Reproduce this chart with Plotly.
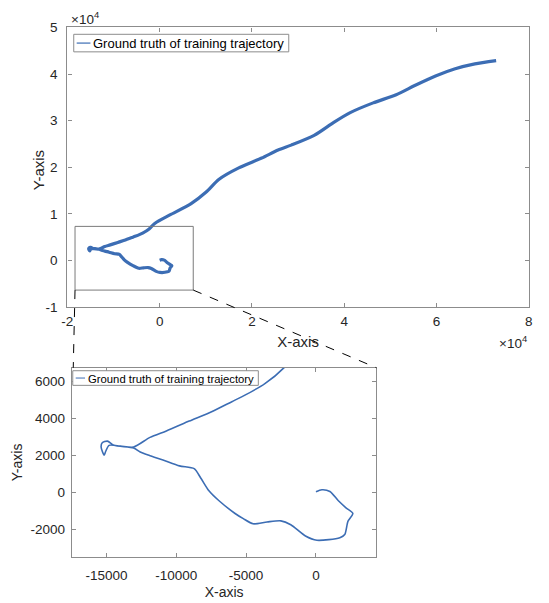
import plotly.graph_objects as go

# Ground-truth trajectory of the training run (metres)
traj_x = [0, 420, 1000, 1590, 2130, 2640, 2290, 2060, 1710, 70, -750, -1800,
          -2510, -3500, -4500, -5200, -5790, -6960, -7660, -8250, -8720, -9770,
          -10950, -11880, -12580, -13050, -14460, -14930, -15300, -15380, -15160,
          -15050, -14810, -13990, -13050, -11880, -10710, -9070, -7430, -6020,
          -5320, -3680, -2280, -1000, 2220, 6820, 10020, 12880, 17140, 22110,
          25670, 28510, 33480, 37740, 41300, 46270, 51260, 55520, 59790, 64050,
          68310, 72920]
traj_y = [50, 160, 70, -420, -800, -1120, -1550, -2260, -2430, -2570, -2340, -1730,
          -1520, -1580, -1680, -1400, -1120, -420, 105, 800, 1300, 1450,
          1770, 2000, 2200, 2420, 2560, 2790, 2700, 2470, 2030,
          2240, 2560, 2520, 2470, 2990, 3340, 3870, 4390, 4920,
          5180, 5880, 6760, 8000, 9770, 12200, 14640, 17430, 19870, 21970,
          23700, 24750, 26840, 29640, 31730, 33820, 35560, 37660, 39600, 41150,
          42200, 42890]

legend_label = "Ground truth of training trajectory"

main_xticks = [-20000, 0, 20000, 40000, 60000, 80000]
main_yticks = [-10000, 0, 10000, 20000, 30000, 40000, 50000]
inset_xticks = [-15000, -10000, -5000, 0]
inset_yticks = [-2000, 0, 2000, 4000, 6000]

# zoom window drawn on the main axes (data units)
zoom_box = dict(x0=-18340, x1=7280, y0=-6360, y1=7310)

LINE_BLUE = "#3c6db4"
AXIS_GREY = "#8c8c8c"
TEXT_DARK = "#262626"
FONT = "Liberation Sans, Arial, sans-serif"

W, H = 549, 603


def px_x(p):
    return p / W


def px_y(p):
    return 1 - p / H


fig = go.Figure()

fig.add_trace(go.Scatter(
    x=traj_x, y=traj_y, mode="lines", name=legend_label,
    line=dict(color=LINE_BLUE, width=3.2, shape="spline", smoothing=0.7),
    xaxis="x", yaxis="y", showlegend=False,
))
fig.add_trace(go.Scatter(
    x=traj_x, y=traj_y, mode="lines", name=legend_label,
    line=dict(color=LINE_BLUE, width=1.6, shape="spline", smoothing=0.7),
    xaxis="x2", yaxis="y2", showlegend=False,
))

axis_common = dict(
    showgrid=False, zeroline=False, showline=True, mirror="ticks",
    linecolor=AXIS_GREY, linewidth=1.3, ticks="inside", ticklen=4,
    tickcolor=AXIS_GREY, tickwidth=1,
    tickfont=dict(family=FONT, size=13.5, color=TEXT_DARK),
)

fig.update_layout(
    width=W, height=H,
    margin=dict(l=0, r=0, t=0, b=0),
    paper_bgcolor="white", plot_bgcolor="white",
    font=dict(family=FONT, color=TEXT_DARK),
    xaxis=dict(
        **axis_common, domain=[px_x(62.5), px_x(532.5)], anchor="y",
        range=[-20000, 80000], tickvals=main_xticks,
        ticktext=[f"{v // 10000:g}" for v in main_xticks],
        ticklabelstandoff=2,
        title=dict(text="X-axis", font=dict(family=FONT, size=15, color=TEXT_DARK), standoff=8),
    ),
    yaxis=dict(
        **axis_common, domain=[px_y(307.7), px_y(21)], anchor="x",
        range=[-10000, 50000], tickvals=main_yticks,
        ticktext=[f"{v // 10000:g}" for v in main_yticks],
        ticklabelstandoff=6,
    ),
    xaxis2=dict(
        **axis_common, domain=[px_x(67), px_x(377.3)], anchor="y2",
        range=[-17480, 4330], tickvals=inset_xticks,
        ticktext=[str(v) for v in inset_xticks],
        ticklabelstandoff=6,
        title=dict(text="X-axis", font=dict(family=FONT, size=14, color=TEXT_DARK), standoff=4),
    ),
    yaxis2=dict(
        **axis_common, domain=[px_y(564), px_y(370)], anchor="x2",
        range=[-3470, 6750], tickvals=inset_yticks,
        ticktext=[str(v) for v in inset_yticks],
        ticklabelstandoff=3,
        title=dict(text="Y-axis", font=dict(family=FONT, size=14, color=TEXT_DARK), standoff=4),
    ),
)

# main y-axis title, placed beside the tick labels
fig.add_annotation(text="Y-axis", xref="paper", yref="paper",
                   x=px_x(33), y=px_y(167), xanchor="center", yanchor="middle",
                   textangle=-90, showarrow=False,
                   font=dict(family=FONT, size=15, color=TEXT_DARK))

# zoom window on the main axes
fig.add_shape(type="rect", xref="x", yref="y", line=dict(color="#7a7a7a", width=1),
              **zoom_box)

# dashed connectors from the zoom window to the inset's top corners
fig.add_shape(type="line", xref="paper", yref="paper",
              x0=px_x(70.3), y0=px_y(290.3), x1=px_x(68.5), y1=px_y(370),
              line=dict(color="black", width=1, dash="dash"))
fig.add_shape(type="line", xref="paper", yref="paper",
              x0=px_x(190.7), y0=px_y(290.3), x1=px_x(377.3), y1=px_y(370),
              line=dict(color="black", width=1, dash="dash"))


def add_legend_box(left, top, right, bottom, line_end, text_size, line_w):
    """MATLAB-style legend: framed box, short line sample and label."""
    mid = (top + bottom) / 2
    fig.add_shape(type="rect", xref="paper", yref="paper",
                  x0=px_x(left), x1=px_x(right), y0=px_y(bottom), y1=px_y(top),
                  line=dict(color=AXIS_GREY, width=1), fillcolor="white")
    fig.add_shape(type="line", xref="paper", yref="paper",
                  x0=px_x(left + 3), x1=px_x(line_end), y0=px_y(mid), y1=px_y(mid),
                  line=dict(color=LINE_BLUE, width=line_w))
    fig.add_annotation(text=legend_label, xref="paper", yref="paper",
                       x=px_x(line_end + 1), y=px_y(mid + 0.5),
                       xanchor="left", yanchor="middle", showarrow=False,
                       font=dict(family=FONT, size=text_size, color="black"))


add_legend_box(69, 28, 288, 46, 86, 13, 1.2)
add_legend_box(68, 373, 257, 388, 80.5, 11.3, 1.0)

# axis exponent markers
exp_font = dict(family=FONT, size=13.5, color=TEXT_DARK)
fig.add_annotation(text="×10<sup>4</sup>", xref="paper", yref="paper",
                   x=px_x(64), y=px_y(11), xanchor="left", yanchor="middle",
                   showarrow=False, font=exp_font)
fig.add_annotation(text="×10<sup>4</sup>", xref="paper", yref="paper",
                   x=px_x(533), y=px_y(344), xanchor="right", yanchor="middle",
                   showarrow=False, font=exp_font)

fig.write_html("out.html")
